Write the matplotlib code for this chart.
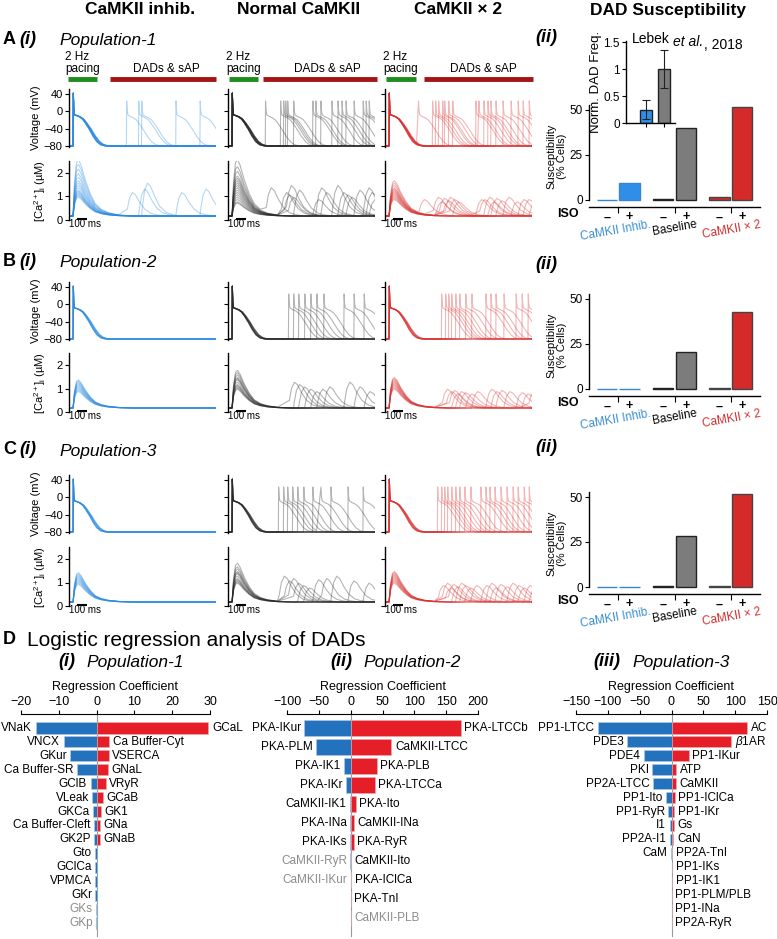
import numpy as np
import matplotlib
matplotlib.use("Agg")
import matplotlib.pyplot as plt
from matplotlib.lines import Line2D

plt.rcParams['font.family'] = ['Liberation Sans', 'DejaVu Sans']
plt.rcParams['mathtext.fontset'] = 'custom'
plt.rcParams['mathtext.rm'] = 'Liberation Sans'
plt.rcParams['mathtext.it'] = 'Liberation Sans:italic'
plt.rcParams['mathtext.bf'] = 'Liberation Sans:bold'
plt.rcParams['axes.linewidth'] = 1.0

W, H = 777, 939

# ---- waveform shapes (ms after onset) ----
AP_T = [0, 3, 8, 15, 40, 70, 100, 130, 170, 210, 250, 290, 340]
AP_V = [-80, 42, 5, -8, -10, -13, -18, -27, -41, -57, -70, -77, -80]
SAP_V = [-80, 24, 2, -8, -12, -15, -20, -29, -43, -58, -70, -77, -80]
CA_T = [0, 15, 35, 55, 80, 120, 170, 220, 280, 350, 450, 600]
CA_SHAPE = [0, 0.6, 0.95, 1.0, 0.9, 0.65, 0.4, 0.22, 0.12, 0.06, 0.02, 0]
SCA_T = [0, 10, 30, 60, 90, 130, 180, 240, 300, 380]
SCA_SHAPE = [0, 0.3, 0.75, 1.0, 0.9, 0.6, 0.3, 0.12, 0.05, 0]
APD_SPREAD = [0.94, 0.97, 1.0, 1.03, 1.06]
CA_BASE = 0.17
PACE_T = 40

# ---- population 1 ----
P1_INHIB_CA = [2.4, 2.2, 2.0, 1.8, 1.65, 1.5, 1.4, 1.3, 1.2, 1.1, 1.05, 1.0, 0.95, 0.9, 0.85, 0.8]
P1_INHIB_DADS = [[570, 1060], [690, 1300], [720]]
P1_INHIB_SCA = [1.0, 1.15, 1.4]
P1_NORM_CA = [2.4, 2.1, 1.9, 1.7, 1.6, 1.5, 1.4, 1.3, 1.2, 1.1, 1.0, 0.9, 0.8, 0.7, 0.6, 0.55]
P1_NORM_DADS = [[370, 870, 1340], [520, 1090], [550, 1130], [570, 1030], [590, 1170],
                [650, 1250], [840, 1400], [920, 1370]]
P1_NORM_SCA = [1.2, 1.0, 0.9, 1.3, 0.8, 1.1, 0.7, 1.0]
P1_X2_CA = [1.5, 1.4, 1.3, 1.2, 1.15, 1.1, 1.05, 1.0, 0.95, 0.9, 0.85, 0.8, 0.75, 0.7]
P1_X2_DADS = [[330, 900, 1370], [470, 980], [500, 1020, 1430], [530, 1050], [570, 1100],
              [590, 1170], [630, 930, 1320], [670, 1250]]
P1_X2_SCA = [0.7, 0.8, 0.6, 0.75, 0.65, 0.8, 0.7, 0.6]

# ---- population 2 ----
P2_INHIB_CA = [1.2, 1.15, 1.1, 1.05, 1.0, 0.95, 0.9, 0.85, 0.8, 0.75, 0.7]
P2_NORM_CA = [1.6, 1.5, 1.4, 1.3, 1.25, 1.2, 1.1, 1.0, 0.95, 0.9, 0.85, 0.8]
P2_NORM_DADS = [[600, 1150], [650], [700, 1250], [760], [820, 1350], [880], [950]]
P2_NORM_SCA = [1.1, 1.0, 0.9, 0.8, 0.7, 0.8, 0.9]
P2_X2_CA = [1.3, 1.25, 1.2, 1.15, 1.1, 1.05, 1.0, 0.95, 0.9, 0.85, 0.8]
P2_X2_DADS = [[560, 1000], [600, 1050, 1420], [630, 1100], [660], [700, 1180],
              [740, 1300], [800, 1360], [860]]
P2_X2_SCA = [0.8, 0.7, 0.75, 0.6, 0.7, 0.65, 0.6, 0.7]

# ---- population 3 ----
P3_INHIB_CA = [1.25, 1.2, 1.15, 1.1, 1.05, 1.0, 0.95, 0.9, 0.85, 0.8, 0.75]
P3_NORM_CA = [1.65, 1.5, 1.4, 1.3, 1.25, 1.2, 1.1, 1.0, 0.95, 0.9, 0.85, 0.8]
P3_NORM_DADS = [[500, 1020], [550, 1190], [590, 920], [640, 1340], [690], [750], [840]]
P3_NORM_SCA = [1.1, 0.9, 1.0, 0.8, 0.7, 0.6, 0.95]
P3_X2_CA = [1.3, 1.25, 1.2, 1.15, 1.1, 1.05, 1.0, 0.95, 0.9, 0.85, 0.8]
P3_X2_DADS = [[520, 950, 1380], [560, 1000], [590, 1040, 1430], [620, 1090], [660, 1150],
              [700, 1210], [740, 1270], [790, 1320], [850]]
P3_X2_SCA = [0.7, 0.8, 0.6, 0.75, 0.65, 0.8, 0.7, 0.6, 0.7]

# ---- DAD susceptibility (% cells) ----
SUSC_POS = [0, 1, 2.5, 3.5, 5, 6]
SUSC_ISO = ['–', '+', '–', '+', '–', '+']
SUSC_POP1 = [0, 9.5, 0.6, 40, 1.4, 51.5]
SUSC_POP2 = [0, 0, 0.3, 20.5, 0.3, 43]
SUSC_POP3 = [0, 0, 0.3, 28.5, 0.3, 51.5]
LEBEK_VALS = [0.25, 1.0]
LEBEK_ERR = [0.18, 0.35]

# ---- logistic regression coefficients ----
R1_NEG = ['VNaK', 'VNCX', 'GKur', 'Ca Buffer-SR', 'GClB', 'VLeak', 'GKCa', 'Ca Buffer-Cleft',
          'GK2P', 'Gto', 'GClCa', 'VPMCA', 'GKr', 'GKs', 'GKp']
R1_NEG_V = [-16.1, -8.7, -7.0, -5.1, -1.6, -1.1, -1.0, -0.8, -0.7, -0.4, -0.35, -0.3, -0.3, -0.1, -0.05]
R1_POS = ['GCaL', 'Ca Buffer-Cyt', 'VSERCA', 'GNaL', 'VRyR', 'GCaB', 'GK1', 'GNa', 'GNaB']
R1_POS_V = [29.6, 3.3, 3.2, 3.1, 2.4, 1.6, 1.1, 1.0, 0.8]
R1_GRAY = ['GKs', 'GKp']

R2_NEG = ['PKA-IKur', 'PKA-PLM', 'PKA-IK1', 'PKA-IKr', 'CaMKII-IK1', 'PKA-INa', 'PKA-IKs',
          'CaMKII-RyR', 'CaMKII-IKur']
R2_NEG_V = [-73, -54, -10.5, -7.4, -1.2, -0.8, -0.6, -0.3, -0.2]
R2_POS = ['PKA-LTCCb', 'CaMKII-LTCC', 'PKA-PLB', 'PKA-LTCCa', 'PKA-Ito', 'CaMKII-INa', 'PKA-RyR',
          'CaMKII-Ito', 'PKA-IClCa', 'PKA-TnI', 'CaMKII-PLB']
R2_POS_V = [173, 64, 40.6, 38, 7.8, 5.2, 5.0, 1.0, 0.6, 0.3, 0.1]
R2_GRAY = ['CaMKII-RyR', 'CaMKII-IKur', 'CaMKII-PLB']

R3_NEG = ['PP1-LTCC', 'PDE3', 'PDE4', 'PKI', 'PP2A-LTCC', 'PP1-Ito', 'PP1-RyR', 'I1', 'PP2A-I1', 'CaM']
R3_NEG_V = [-116, -70, -43.6, -30.4, -28.9, -9.4, -5.3, -3.1, -2.6, -0.8]
R3_POS = ['AC', r'$\beta$1AR', 'PP1-IKur', 'ATP', 'CaMKII', 'PP1-IClCa', 'PP1-IKr', 'Gs', 'CaN',
          'PP2A-TnI', 'PP1-IKs', 'PP1-IK1', 'PP1-PLM/PLB', 'PP1-INa', 'PP2A-RyR']
R3_POS_V = [119, 94, 27, 7.3, 7.0, 5.0, 4.5, 3.5, 3.0, 1.5, 1.2, 1.0, 0.8, 0.6, 0.5]

BLUE_TR, GRAY_TR, RED_TR = '#2a8ae0', '#2a2a2a', '#d83030'
BAR_BLUE, BAR_GRAY, BAR_RED = '#2f8fe8', '#7c7c7c', '#d42a2a'
D_BLUE, D_RED = '#2272bd', '#e61e28'

fig = plt.figure(figsize=(W / 100, H / 100), dpi=100)


def ax_px(l, t, w, h):
    return fig.add_axes([l / W, 1 - (t + h) / H, w / W, h / H])


def ftext(x, y, s, **kw):
    kw.setdefault('va', 'center')
    return fig.text(x / W, 1 - y / H, s, **kw)


def fline(x0, x1, y, **kw):
    fig.add_artist(Line2D([x0 / W, x1 / W], [1 - y / H, 1 - y / H], **kw))


def build(events, t_shape, end_val):
    ts, ys = [0.0], [end_val]
    cut = False
    for k, (t0, shape, sc, amp, base) in enumerate(events):
        t_next = events[k + 1][0] if k + 1 < len(events) else 1e9
        cut_now = False
        for j, (tt, yy) in enumerate(zip(t_shape[k], shape)):
            if j == 0 and cut:
                continue
            t = t0 + tt * sc
            if t >= t_next:
                cut_now = True
                break
            ts.append(t)
            ys.append(base + amp * yy)
        cut = cut_now
    if not cut:
        ts.append(1460)
        ys.append(end_val)
    return ts, ys


def v_trace(onsets, apd):
    ev = [(PACE_T, AP_V, apd, 1, 0)] + [(o, SAP_V, 1.0, 1, 0) for o in onsets]
    return build(ev, [AP_T] * len(ev), -80)


def ca_trace(peak, onsets, samp):
    ev = [(PACE_T, CA_SHAPE, 1.0, peak, CA_BASE)] + [(o, SCA_SHAPE, 1.0, samp, CA_BASE) for o in onsets]
    shapes_t = [CA_T] + [SCA_T] * len(onsets)
    return build(ev, shapes_t, CA_BASE)


COL_LEFT = [69, 228, 385]
COL_W = 147
PX_MV = 52 / 120
PX_UM = 23.5


def trace_panel(col, y_v80, y_ca0, ca_peaks, dads, sca, color):
    left = COL_LEFT[col]
    axv = ax_px(left, y_v80 - 132 * PX_MV, COL_W, 135 * PX_MV)
    axc = ax_px(left, y_ca0 - 2.5 * PX_UM, COL_W, 2.5 * PX_UM)
    for i, pk in enumerate(ca_peaks):
        ons = dads[i] if i < len(dads) else []
        sa = sca[i] if i < len(sca) else 0
        t, v = v_trace(ons, APD_SPREAD[i % len(APD_SPREAD)])
        axv.plot(t, v, color=color, lw=0.8, alpha=0.35)
        t, c = ca_trace(pk, ons, sa)
        axc.plot(t, c, color=color, lw=0.8, alpha=0.35)
    axv.set_ylim(-83, 52)
    axc.set_ylim(0, 2.5)
    for a, ticks in ((axv, [-80, -40, 0, 40]), (axc, [0, 1, 2])):
        a.set_xlim(0, 1460)
        a.set_yticks(ticks)
        a.set_xticks([])
        for s in ('top', 'right', 'bottom'):
            a.spines[s].set_visible(False)
        a.tick_params(axis='y', length=3, width=0.8, labelsize=8, pad=1.5)
        a.patch.set_alpha(0)
        if col > 0:
            a.set_yticklabels([])
    if col == 0:
        axv.set_ylabel('Voltage (mV)', fontsize=8, labelpad=2)
        axc.set_ylabel(r'[Ca$^{2+}$]$_\mathrm{i}$ (µM)', fontsize=8, labelpad=6)
    axc.plot([80, 180], [0.03, 0.03], color='black', lw=1.5, clip_on=False, solid_capstyle='butt')
    axc.text(0, -0.16, '100 ms', transform=axc.get_yaxis_transform(), fontsize=7,
             ha='left', va='center')


def susc_panel(y0, vals, inset=False):
    ax = ax_px(589, y0 - 53 * 1.8, 171, 57 * 1.8)
    edges = ['#3a86cc', '#3a86cc', '#222222', '#222222', '#444444', '#444444']
    colors = [BAR_BLUE, BAR_BLUE, BAR_GRAY, BAR_GRAY, BAR_RED, BAR_RED]
    ax.bar(SUSC_POS, vals, width=0.9, color=colors, edgecolor=edges, linewidth=1)
    ax.set_xlim(-0.8, 6.8)
    ax.set_ylim(-4, 53)
    ax.set_yticks([0, 25, 50])
    ax.set_xticks(SUSC_POS)
    ax.set_xticklabels(SUSC_ISO, fontsize=9, fontweight='bold')
    ax.set_xticks([0.5, 3.0, 5.5], minor=True)
    ax.tick_params(axis='x', which='major', length=0, pad=3)
    ax.tick_params(axis='x', which='minor', length=4, width=0.8)
    ax.tick_params(axis='y', length=3, width=0.8, labelsize=8.5, pad=1.5)
    for s in ('top', 'right'):
        ax.spines[s].set_visible(False)
    ax.spines['left'].set_bounds(0, 53)
    ax.set_ylabel('Susceptibility\n(% Cells)', fontsize=8, labelpad=2, linespacing=1.0)
    ax.patch.set_alpha(0)
    ftext(568, y0 + 14, 'ISO', fontsize=9, fontweight='bold', ha='center')
    ftext(616, y0 + 31, 'CaMKII Inhib.', fontsize=8.5, color='#3a8fd0', ha='center', rotation=10)
    ftext(675, y0 + 28, 'Baseline', fontsize=8.5, color='black', ha='center', rotation=10)
    ftext(732, y0 + 30, 'CaMKII × 2', fontsize=8.5, color='#d03030', ha='center', rotation=10)
    if inset:
        ai = ax_px(626, 41, 49, 82)
        ai.bar([0, 1], LEBEK_VALS, width=0.72, color=[BAR_BLUE, BAR_GRAY],
               edgecolor='#222222', linewidth=1, yerr=LEBEK_ERR, capsize=3,
               error_kw=dict(elinewidth=0.8, capthick=0.8, ecolor='#222222'))
        ai.set_xlim(-1.11, 1.61)
        ai.set_ylim(0, 1.52)
        ai.set_yticks([0, 0.5, 1, 1.5])
        ai.set_yticklabels(['0', '0.5', '1', '1.5'])
        ai.set_xticks([0, 1])
        ai.set_xticklabels([])
        ai.tick_params(axis='y', length=3, width=0.8, labelsize=8.5, pad=1.5)
        ai.tick_params(axis='x', length=3, width=0.8)
        for s in ('top', 'right'):
            ai.spines[s].set_visible(False)
        ai.set_ylabel('Norm. DAD Freq.', fontsize=9.5, labelpad=1)
        ai.patch.set_alpha(0)
        t1 = ftext(632, 43, 'Lebek', fontsize=10, ha='left', va='baseline')
        t2 = ai.annotate('et al.', xy=(1, 0), xycoords=t1, xytext=(2.5, 0), textcoords='offset points',
                         fontsize=10, style='italic', ha='left', va='baseline', annotation_clip=False)
        ai.annotate(', 2018', xy=(1, 0), xycoords=t2, xytext=(0.5, 0), textcoords='offset points',
                    fontsize=10, ha='left', va='baseline', annotation_clip=False)


def reg_panel(left, width, xlim, xticks, ylim, neg, neg_v, pos, pos_v, gray):
    ax = ax_px(left, 714, width, 223)
    ax.axvline(0, color='#9a9a9a', lw=0.8, zorder=1)
    ax.barh(range(len(neg_v)), neg_v, height=0.8, color=D_BLUE, edgecolor='#b9c9da', lw=0.4, zorder=2)
    ax.barh(range(len(pos_v)), pos_v, height=0.8, color=D_RED, edgecolor='#e8b0b0', lw=0.4, zorder=2)
    for r, (n, v) in enumerate(zip(neg, neg_v)):
        ax.annotate(n, (v, r), xytext=(-2.5, 0), textcoords='offset points', ha='right', va='center',
                    fontsize=8.5, color='#8c8c8c' if n in gray else 'black')
    for r, (n, v) in enumerate(zip(pos, pos_v)):
        ax.annotate(n, (v, r), xytext=(2.5, 0), textcoords='offset points', ha='left', va='center',
                    fontsize=8.5, color='#8c8c8c' if n in gray else 'black')
    ax.set_xlim(*xlim)
    ax.set_ylim(*ylim)
    ax.set_xticks(xticks)
    ax.set_yticks([])
    ax.xaxis.tick_top()
    ax.xaxis.set_label_position('top')
    ax.set_xlabel('Regression Coefficient', fontsize=9, labelpad=4)
    ax.tick_params(axis='x', length=3, width=0.8, labelsize=9, pad=1.5)
    for s in ('bottom', 'left', 'right'):
        ax.spines[s].set_visible(False)
    ax.spines['top'].set_linewidth(0.8)
    ax.patch.set_alpha(0)


# ---- headers ----
ftext(140, 10, 'CaMKII inhib.', fontsize=12.5, fontweight='bold', ha='center')
ftext(299, 10, 'Normal CaMKII', fontsize=12.5, fontweight='bold', ha='center')
ftext(458, 10, 'CaMKII × 2', fontsize=12.5, fontweight='bold', ha='center')
ftext(668, 10, 'DAD Susceptibility', fontsize=12.5, fontweight='bold', ha='center')

for lab, y, pop in (('A', 40, 'Population-1'), ('B', 261, 'Population-2'), ('C', 450, 'Population-3')):
    ftext(3, y, lab, fontsize=13, fontweight='bold', ha='left')
    ftext(19, y, '(i)', fontsize=13, fontweight='bold', style='italic', ha='left')
    ftext(59, y + 1, pop, fontsize=12.5, style='italic', ha='left')
for y in (38, 265, 447):
    ftext(535, y, '(ii)', fontsize=13, fontweight='bold', style='italic', ha='left')

# pacing / DAD bars
GREEN_BAR = [(68, 97), (229, 258), (386, 416)]
RED_BAR = [(110, 216), (263, 377), (424, 533)]
DAD_TXT_X = [166, 327, 483]
for c in range(3):
    fline(*GREEN_BAR[c], 79, color='#1e8c1e', lw=3.5, solid_capstyle='butt')
    fline(*RED_BAR[c], 79, color='#a51414', lw=3.5, solid_capstyle='butt')
    ftext(GREEN_BAR[c][0] - 3, 57, '2 Hz', fontsize=8.5, ha='left')
    ftext(GREEN_BAR[c][0] - 3, 69, 'pacing', fontsize=8.5, ha='left')
    ftext(DAD_TXT_X[c], 69, 'DADs & sAP', fontsize=8.5, ha='center')

# ---- trace panels ----
trace_panel(0, 146, 220, P1_INHIB_CA, P1_INHIB_DADS, P1_INHIB_SCA, BLUE_TR)
trace_panel(1, 146, 220, P1_NORM_CA, P1_NORM_DADS, P1_NORM_SCA, GRAY_TR)
trace_panel(2, 146, 220, P1_X2_CA, P1_X2_DADS, P1_X2_SCA, RED_TR)
trace_panel(0, 339, 412, P2_INHIB_CA, [], [], BLUE_TR)
trace_panel(1, 339, 412, P2_NORM_CA, P2_NORM_DADS, P2_NORM_SCA, GRAY_TR)
trace_panel(2, 339, 412, P2_X2_CA, P2_X2_DADS, P2_X2_SCA, RED_TR)
trace_panel(0, 532, 606, P3_INHIB_CA, [], [], BLUE_TR)
trace_panel(1, 532, 606, P3_NORM_CA, P3_NORM_DADS, P3_NORM_SCA, GRAY_TR)
trace_panel(2, 532, 606, P3_X2_CA, P3_X2_DADS, P3_X2_SCA, RED_TR)

susc_panel(200, SUSC_POP1, inset=True)
susc_panel(389, SUSC_POP2)
susc_panel(587, SUSC_POP3)

# ---- panel D ----
ftext(3, 640, 'D', fontsize=13, fontweight='bold', ha='left')
ftext(27, 640, 'Logistic regression analysis of DADs', fontsize=15, ha='left')
for x0, x1, num, pop in ((58, 86, '(i)', 'Population-1'), (330, 363, '(ii)', 'Population-2'),
                         (593, 632, '(iii)', 'Population-3')):
    ftext(x0, 662, num, fontsize=13, fontweight='bold', style='italic', ha='left')
    ftext(x1, 662, pop, fontsize=12.5, style='italic', ha='left')

reg_panel(21, 189, (-20, 30), [-20, -10, 0, 10, 20, 30], (15.0, -1.0), R1_NEG, R1_NEG_V, R1_POS, R1_POS_V, R1_GRAY)
reg_panel(287, 191, (-100, 200), [-100, -50, 0, 50, 100, 150, 200], (11.0, -0.74),
          R2_NEG, R2_NEG_V, R2_POS, R2_POS_V, R2_GRAY)
reg_panel(576, 191, (-150, 150), [-150, -100, -50, 0, 50, 100, 150], (15.0, -1.0),
          R3_NEG, R3_NEG_V, R3_POS, R3_POS_V, [])

fig.savefig('out.png', dpi=100)
